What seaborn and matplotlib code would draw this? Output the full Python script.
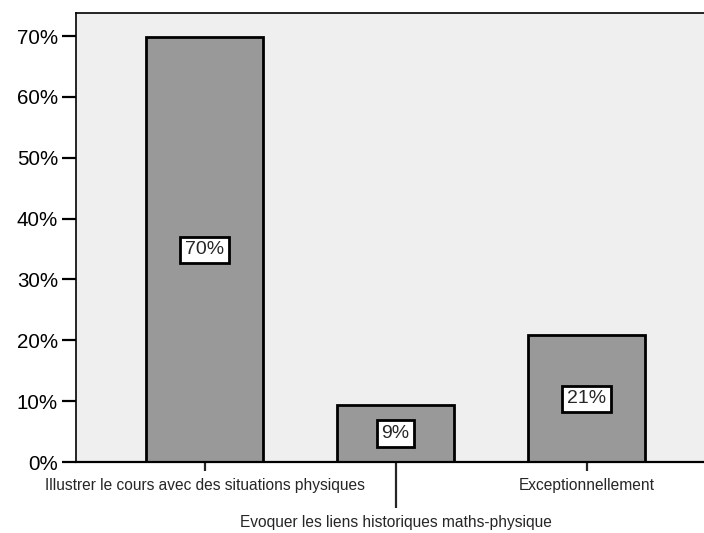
import matplotlib
matplotlib.use("Agg")
import matplotlib.pyplot as plt
import seaborn as sns
import pandas as pd
from matplotlib.ticker import FixedLocator, FixedFormatter

categories = ["Illustrer le cours avec des situations physiques",
              "Evoquer les liens historiques maths-physique",
              "Exceptionnellement"]
values = [69.8, 9.4, 20.8]
bar_labels = ["70%", "9%", "21%"]
yticks = [0, 10, 20, 30, 40, 50, 60, 70]
ytick_labels = ["0%", "10%", "20%", "30%", "40%", "50%", "60%", "70%"]

df = pd.DataFrame({"cat": categories, "val": values})

sns.set_style("white")
plt.rcParams['font.family'] = ['Liberation Sans', 'DejaVu Sans']

fig = plt.figure(figsize=(7.04, 5.33), dpi=100)
ax = fig.add_axes([76/704, 1 - 462/533, 1 - 76/704, (462 - 13)/533])
ax.set_facecolor("#efefef")

sns.barplot(data=df, x="cat", y="val", color="#999999", saturation=1,
            width=0.613, edgecolor="black", linewidth=2, ax=ax)

ax.set_xlim(-0.673, 2.615)
ax.set_ylim(0, 73.8)
ax.set_xlabel("")
ax.set_ylabel("")

ax.set_yticks(yticks)
ax.set_yticklabels(ytick_labels, fontsize=14.8)
ax.tick_params(axis="y", direction="out", length=10, width=1.6, pad=3, left=True, colors="black")

# x ticks: categories 0 and 2 as major, 1 as minor (longer tick)
ax.xaxis.set_major_locator(FixedLocator([0, 2]))
ax.xaxis.set_major_formatter(FixedFormatter([categories[0], categories[2]]))
ax.xaxis.set_minor_locator(FixedLocator([1]))
ax.xaxis.set_minor_formatter(FixedFormatter([categories[1]]))
ax.tick_params(axis="x", which="major", direction="out", length=6.5, width=1.6,
               pad=5, labelsize=11.2, bottom=True)
ax.tick_params(axis="x", which="minor", direction="out", length=33, width=1.6,
               pad=5, labelsize=11.2, bottom=True)

for side in ["left", "bottom"]:
    ax.spines[side].set_color("black")
    ax.spines[side].set_linewidth(1.6)
ax.spines["left"].set_linewidth(1.2)
ax.spines["top"].set_color("black")
ax.spines["top"].set_linewidth(1.2)
ax.spines["right"].set_visible(False)

for i, (v, lab) in enumerate(zip(values, bar_labels)):
    ax.text(i, v / 2, lab, ha="center", va="center", fontsize=14,
            bbox=dict(boxstyle="square,pad=0.24", facecolor="white",
                      edgecolor="black", linewidth=2))

fig.savefig("out.png", dpi=100)
